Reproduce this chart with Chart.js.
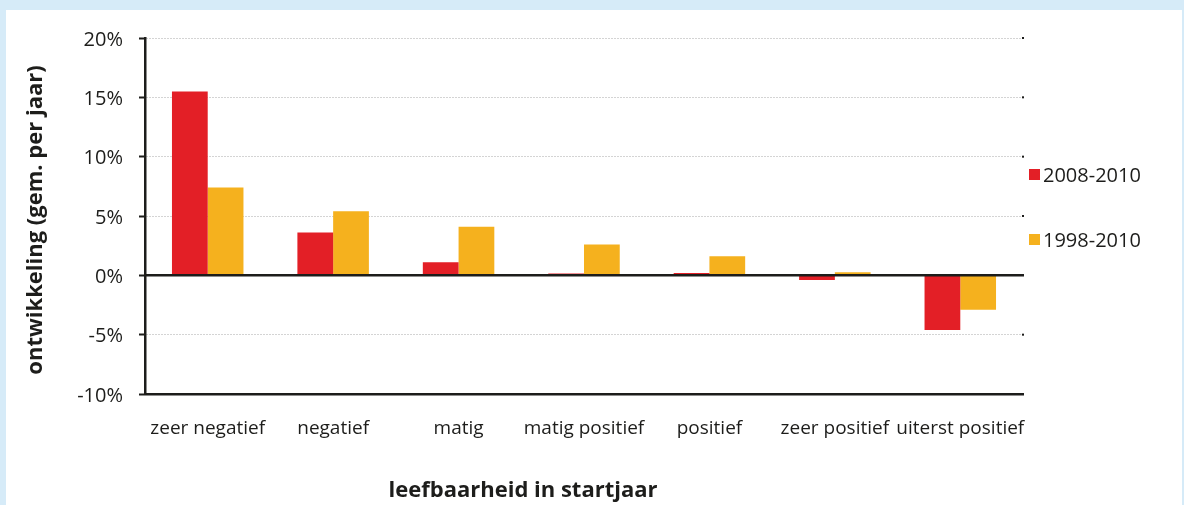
<!DOCTYPE html>
<html lang="nl">
<head>
<meta charset="utf-8">
<title>Ontwikkeling leefbaarheid</title>
<script src="https://cdn.jsdelivr.net/npm/chart.js@4/dist/chart.umd.min.js"></script>
<style>
  html, body { margin: 0; padding: 0; }
  body { width: 1184px; height: 505px; background: #d6ebf8; position: relative; overflow: hidden; }
  #panel { position: absolute; left: 6px; top: 10px; width: 1176px; height: 495px; background: #ffffff; }
  #wrap { position: absolute; left: 0; top: 0; width: 1184px; height: 505px; }
</style>
</head>
<body>
<div id="panel"></div>
<div id="wrap"><canvas id="chart" width="1184" height="505"></canvas></div>
<script>
// Categories: liveability class in the start year
const categories = ['zeer negatief', 'negatief', 'matig', 'matig positief', 'positief', 'zeer positief', 'uiterst positief'];

// Average yearly change (%) per period
const series2008 = [15.5, 3.6, 1.1, 0.15, 0.2, -0.4, -4.6];
const series1998 = [7.4, 5.4, 4.1, 2.6, 1.6, 0.25, -2.9];

const seriesLabels = ['2008-2010', '1998-2010'];
const seriesColors = ['#e31f26', '#f5b11e'];

// Y axis range and step (percent)
const yMin = -10;
const yMax = 20;
const yStep = 5;

const xTitle = 'leefbaarheid in startjaar';
const yTitle = 'ontwikkeling (gem. per jaar)';

const FONT = "'Open Sans', 'Noto Sans', sans-serif";
const TEXT = '#1d1d1b';

// Axis titles, zero line, right-side tick dots and legend
const decorations = {
  id: 'decorations',
  afterDraw(chart) {
    const { ctx, chartArea, scales } = chart;
    const y = scales.y;
    ctx.save();

    // zero line
    const y0 = y.getPixelForValue(0);
    ctx.strokeStyle = '#1d1d1b';
    ctx.lineWidth = 2.5;
    ctx.beginPath();
    ctx.moveTo(chartArea.left, y0);
    ctx.lineTo(chartArea.right + 1, y0);
    ctx.stroke();

    // small marks where the grid lines end on the right
    ctx.fillStyle = '#1d1d1b';
    y.ticks.forEach(t => {
      if (t.value === 0 || t.value === yMin) return;
      const py = y.getPixelForValue(t.value);
      ctx.fillRect(chartArea.right - 1, py - 1, 2, 2);
    });

    // y title
    ctx.fillStyle = TEXT;
    ctx.font = `bold 22px ${FONT}`;
    ctx.textAlign = 'center';
    ctx.textBaseline = 'middle';
    ctx.save();
    ctx.translate(36, 220);
    ctx.rotate(-Math.PI / 2);
    ctx.fillText(yTitle, 0, 0);
    ctx.restore();

    // x title
    ctx.fillText(xTitle, 523, 491);

    // legend
    ctx.font = `20px ${FONT}`;
    ctx.textAlign = 'left';
    const legendY = [175, 240];
    chart.data.datasets.forEach((ds, i) => {
      ctx.fillStyle = ds.backgroundColor;
      ctx.fillRect(1029, legendY[i] - 6, 11, 11);
      ctx.fillStyle = TEXT;
      ctx.fillText(ds.label, 1043, legendY[i] + 1);
    });

    ctx.restore();
  }
};

new Chart(document.getElementById('chart'), {
  type: 'bar',
  data: {
    labels: categories,
    datasets: [
      { label: seriesLabels[0], data: series2008, backgroundColor: seriesColors[0] },
      { label: seriesLabels[1], data: series1998, backgroundColor: seriesColors[1] }
    ]
  },
  options: {
    responsive: false,
    animation: false,
    devicePixelRatio: 1,
    layout: { padding: { left: 0, right: 161, top: 38, bottom: 0 } },
    datasets: {
      bar: { categoryPercentage: 0.57, barPercentage: 1.0, borderWidth: 0 }
    },
    plugins: {
      legend: { display: false },
      tooltip: { enabled: false },
      title: { display: false }
    },
    scales: {
      x: {
        grid: { display: false, drawTicks: false },
        border: { display: true, color: '#1d1d1b', width: 2.5 },
        ticks: { color: TEXT, font: { family: FONT, size: 19 }, padding: 23, maxRotation: 0, autoSkip: false },
        afterFit(scale) { scale.height = 505 - 394; }
      },
      y: {
        min: yMin,
        max: yMax,
        ticks: {
          stepSize: yStep,
          color: TEXT,
          font: { family: FONT, size: 20 },
          padding: 16,
          labelOffset: 2,
          callback: v => v + '%'
        },
        grid: {
          color: ctx => (ctx.tick && (ctx.tick.value === 0 || ctx.tick.value === yMin)) ? 'rgba(0,0,0,0)' : '#a9a9a9',
          lineWidth: 1,
          tickColor: '#1d1d1b',
          tickLength: 6,
          tickWidth: 2
        },
        border: { display: true, color: '#1d1d1b', width: 2.5, dash: [1, 2] },
        afterFit(scale) { scale.width = 145; }
      }
    }
  },
  plugins: [decorations]
});
</script>
</body>
</html>
